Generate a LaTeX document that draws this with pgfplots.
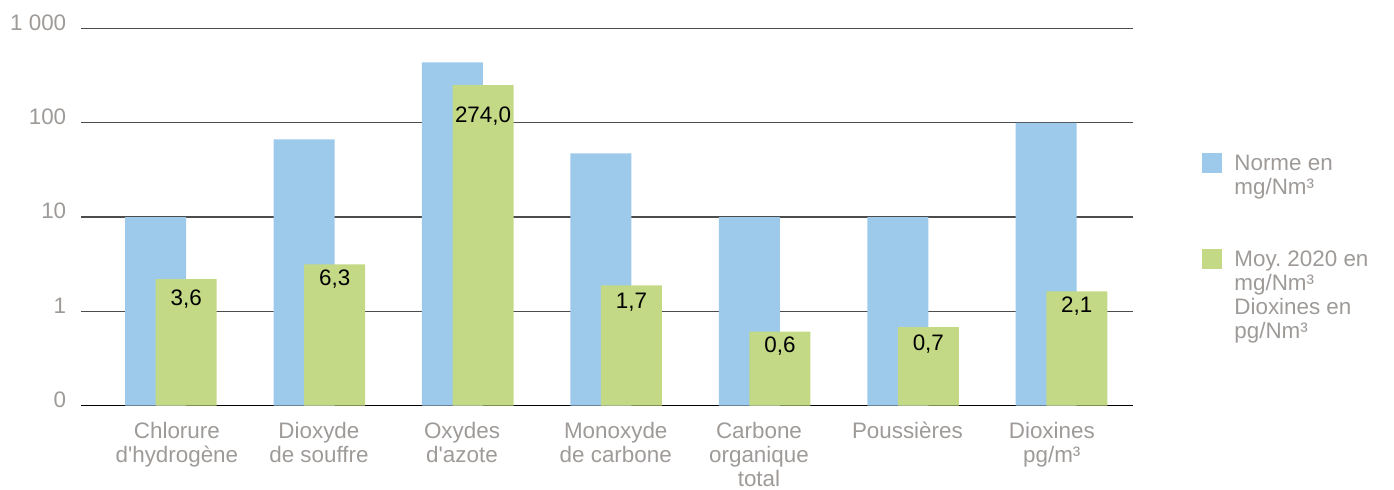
\documentclass[border=0pt]{standalone}
\usepackage{fontspec}
\setmainfont{Liberation Sans}[Ligatures=TeXOff]
\usepackage{pgfplots}
\usepackage{pgfplotstable}
\pgfplotsset{compat=1.18}

\definecolor{normblue}{HTML}{9DCAEB}
\definecolor{moygreen}{HTML}{C4D985}
\definecolor{txtgray}{HTML}{9E9A98}

% x = group position, norme / moyenne = bar heights, lab = printed value, dy = label drop (pt)
\pgfplotstableread{
x  norme  moyenne  lab    dy
0  10     2.19     3,6    5
1  67     3.15     6,3    2.5
2  440    251      274,0  10.5
3  47.5   1.89     1,7    3.85
4  10     0.61     0,6    2.35
5  10     0.68     0,7    3.85
6  100    1.63     2,1    2.5
}\emissions

\begin{document}
\begin{tikzpicture}[font=\fontsize{11.2}{12}\selectfont]
\useasboundingbox (-40.5pt,-41.75pt) rectangle (656.5pt,202.75pt);
\begin{axis}[
    at={(0,0)}, anchor=south west,
    scale only axis,
    width=526pt, height=188.4pt,
    ymode=log,
    log origin y=infty,
    ymin=0.1, ymax=1000,
    xmin=-0.606, xmax=6.482,
    ybar, bar width=0.411,
    axis x line*=bottom,
    axis y line*=left,
    x axis line style={black, line width=0.6pt, -},
    y axis line style={draw=none},
    ymajorgrids,
    major grid style={black!70, line width=0.6pt},
    major tick length=0pt,
    minor tick length=0pt,
    yminorticks=false,
    ytick={0.1,1,10,100,1000},
    yticklabels={0,1,10,100,1 000},
    yticklabel style={anchor=east, inner sep=0pt, xshift=-7.2pt, yshift=3pt, text=txtgray},
    xtick={0.04,0.997,1.961,2.997,3.962,4.962,5.935},
    xticklabels={Chlorure\\d'hydrogène, Dioxyde\\de souffre, Oxydes\\d'azote,
        Monoxyde\\de carbone, Carbone\\organique\\total, Poussières, Dioxines\\pg/m³},
    xticklabel style={align=center, anchor=north, inner sep=0pt, yshift=-8.3pt, text=txtgray},
    legend style={at={(1.0656,0.6701)}, anchor=north west, draw=none, fill=none,
        inner sep=0pt, row sep=26pt, column sep=6pt,
        nodes={align=left, inner sep=0pt, text=txtgray},
        cells={anchor=north west}},
    legend image code/.code={\fill[#1, draw=none] (0pt,0.6pt) rectangle (10pt,-9.4pt);},
]
\addplot[fill=normblue, draw=none, bar shift=-0.103] table[x=x, y=norme] {\emissions};
\addlegendentry{Norme en\\mg/Nm³}
\addplot[fill=moygreen, draw=none, bar shift=0.103,
    nodes near coords, point meta=explicit symbolic,
    visualization depends on={\thisrow{dy} \as \dy},
    every node near coord/.append style={anchor=north, inner sep=0pt, text=black,
        yshift=-\dy pt}]
    table[x=x, y=moyenne, meta=lab] {\emissions};
\addlegendentry{Moy.\ 2020 en\\mg/Nm³\\Dioxines en\\pg/Nm³}
\end{axis}
\end{tikzpicture}
\end{document}
